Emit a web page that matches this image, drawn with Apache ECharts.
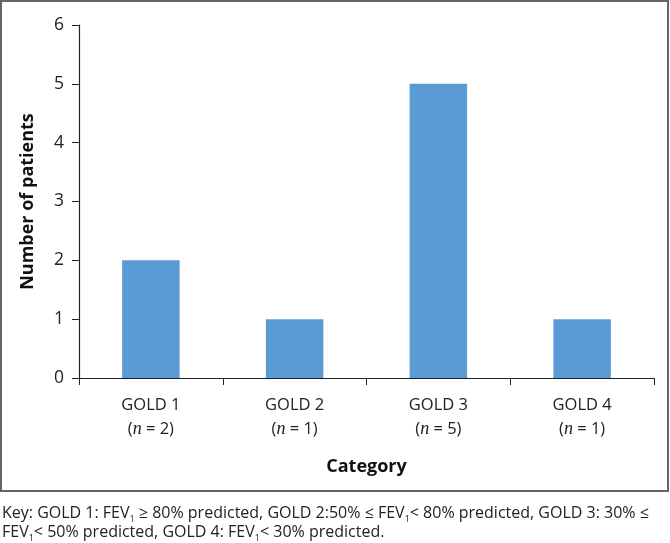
<!DOCTYPE html>
<html>
<head>
<meta charset="utf-8">
<script src="https://cdn.jsdelivr.net/npm/echarts@6/dist/echarts.min.js"></script>
<style>
  html, body { margin: 0; padding: 0; background: #fff; }
  #chart { width: 670px; height: 543px; }
</style>
</head>
<body>
<div id="chart"></div>
<script>
var categories = ["GOLD 1", "GOLD 2", "GOLD 3", "GOLD 4"];
var patients = [2, 1, 5, 1];
var nValues = [2, 1, 5, 1];
var yTicks = [0, 1, 2, 3, 4, 5, 6];

var font = "'Open Sans', 'Noto Sans', sans-serif";
var myChart = echarts.init(document.getElementById("chart"));

var option = {
  backgroundColor: "#fff",
  animation: false,
  grid: { left: 79, right: 16, top: 25, bottom: 165 },
  xAxis: {
    type: "category",
    data: categories,
    name: "Category",
    nameLocation: "middle",
    nameGap: 80,
    nameTextStyle: { fontFamily: font, fontWeight: "bold", fontSize: 18, color: "#111" },
    axisLine: { lineStyle: { color: "#222", width: 1.2 } },
    axisTick: { show: true, length: 7, lineStyle: { color: "#222" } },
    axisLabel: {
      interval: 0,
      margin: 15,
      lineHeight: 24,
      fontFamily: font,
      fontSize: 16.5,
      color: "#222",
      formatter: function (v, i) {
        return v + "\n{p|(}{i|n}{p| = " + nValues[i] + ")}";
      },
      rich: {
        p: { fontFamily: font, fontSize: 16.5, color: "#222" },
        i: { fontFamily: "'Liberation Serif', 'DejaVu Serif', serif", fontStyle: "italic", fontSize: 18, color: "#222" }
      }
    }
  },
  yAxis: {
    type: "value",
    min: yTicks[0],
    max: yTicks[yTicks.length - 1],
    interval: 1,
    name: "Number of patients",
    nameLocation: "middle",
    nameRotate: 90,
    nameGap: 42,
    nameTextStyle: { fontFamily: font, fontWeight: "bold", fontSize: 18, color: "#111" },
    splitLine: { show: false },
    axisLine: { show: true, lineStyle: { color: "#222", width: 1.2 } },
    axisTick: { show: true, length: 7, lineStyle: { color: "#222" } },
    axisLabel: { fontFamily: font, fontSize: 17.5, color: "#222", margin: 15 }
  },
  series: [
    {
      type: "bar",
      data: patients,
      barWidth: "40%",
      itemStyle: { color: "#5B9BD5" }
    }
  ],
  graphic: [
    {
      type: "rect",
      shape: { x: 1, y: 1, width: 667, height: 490 },
      style: { fill: "none", stroke: "#666", lineWidth: 2 }
    },
    {
      type: "text",
      left: 2,
      top: 504,
      style: {
        text: "Key: GOLD 1: FEV{s|1} ≥ 80% predicted, GOLD 2:50% ≤ FEV{s|1}< 80% predicted, GOLD 3: 30% ≤\nFEV{s|1}< 50% predicted, GOLD 4: FEV{s|1}< 30% predicted.",
        font: "16px " + font,
        fill: "#222",
        lineHeight: 19,
        rich: {
          s: { fontSize: 9, fontFamily: font, fill: "#222", padding: [11, 0, 0, 0] }
        }
      }
    }
  ]
};

option && myChart.setOption(option);
</script>
</body>
</html>
